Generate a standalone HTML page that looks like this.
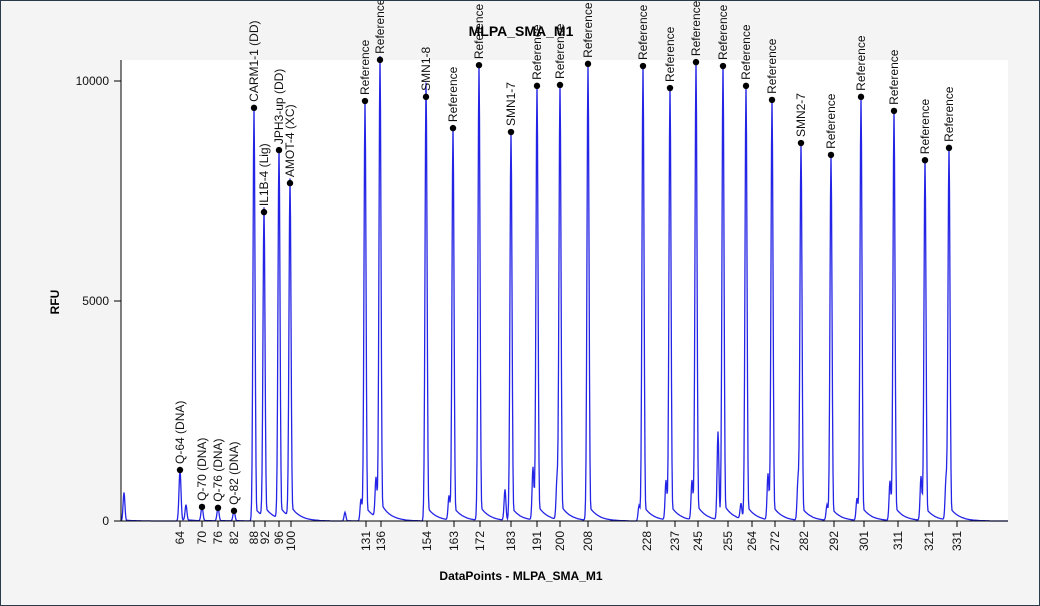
<!DOCTYPE html>
<html><head><meta charset="utf-8"><style>
body{margin:0;background:#f4f4f4;}
#wrap{position:relative;width:1038px;height:604px;border:1px solid #2a3a4a;background:#f4f4f4;overflow:hidden}
text{font-family:"Liberation Sans",sans-serif;}
</style></head><body>
<div id="wrap">
<svg id="chart" width="1038" height="604"></svg>
</div>
<script>
// data (x in scan units, y in RFU)
const peakNames=["Q-64 (DNA)","Q-70 (DNA)","Q-76 (DNA)","Q-82 (DNA)","CARM1-1 (DD)","IL1B-4 (Lig)","JPH3-up (DD)","AMOT-4 (XC)","Reference","Reference","SMN1-8","Reference","Reference","SMN1-7","Reference","Reference","Reference","Reference","Reference","Reference","Reference","Reference","Reference","SMN2-7","Reference","Reference","Reference","Reference","Reference"];
const peakPos=[59,81,97,113,133,143,158,169,244,259,305,332,358,390,416,439,467,522,549,575,602,625,651,680,710,740,773,804,828];
const peakRFU=[1160,320,300,230,9390,7020,8430,7680,9545,10480,9640,8930,10360,8840,9890,9910,10390,10340,9840,10430,10340,9890,9570,8590,8320,9640,9320,8200,8480];
const minorPos=[3,65,224,240,255,306,328,384,412,436,518,545,571,597,620,647,677,706,736,769,800,825];
const minorRFU=[650,350,200,500,900,600,550,700,1200,900,350,900,900,2000,350,1050,900,350,500,900,1000,900];
const tickLabels=["64","70","76","82","88","92","96","100","131","136","154","163","172","183","191","200","208","228","237","245","255","264","272","282","292","301","311","321","331"];
const tickPos=[59,81,97,113,133,144,158,170,245,260,306,333,359,390,416,439,467,526,554,577,607,631,654,683,713,743,777,808,836];
const yTicks=[0,5000,10000];

const X0=120,Y0=520,PW=887;
const sx=v=>X0+v;
const sy=v=>Y0-v*0.044;
const svg=document.getElementById('chart');
const NS='http://www.w3.org/2000/svg';
function mk(t,a,p){const e=document.createElementNS(NS,t);for(const k in a)e.setAttribute(k,a[k]);(p||svg).appendChild(e);return e;}

const plot=mk('rect',{x:X0,y:59,width:PW,height:Y0-59,fill:'#fff'});



// trace
function sig(x){let s=0;
 const f=(p,h,w)=>{const d=x-p;if(d<-8||d>40)return 0;
  const g=Math.exp(-d*d/(2*w*w));const t=d>0?0.035*Math.exp(-d/9):0;return h*Math.max(g,t);};
 for(let i=0;i<peakPos.length;i++)s+=f(peakPos[i],peakRFU[i],1.0);
 for(let i=0;i<minorPos.length;i++)s+=f(minorPos[i],minorRFU[i],0.9);
 return s;}
const xs=[];
for(let x=0;x<=PW;x+=0.5)xs.push(x);
peakPos.forEach(p=>xs.push(p));
xs.sort((a,b)=>a-b);
let d='';
xs.forEach((x,i)=>{d+=(i?'L':'M')+sx(x).toFixed(2)+' '+sy(sig(x)).toFixed(1);});
const trace=mk('path',{d:d,fill:'none',stroke:'#2424e6','stroke-width':1.3});



// axes
const ya=mk('line',{x1:X0,y1:59,x2:X0,y2:Y0,stroke:'#000'});


const xa=mk('line',{x1:X0,y1:Y0,x2:X0+PW,y2:Y0,stroke:'#000'});


yTicks.forEach(v=>{
 const l=mk('line',{x1:X0-7,x2:X0,y1:sy(v),y2:sy(v),stroke:'#000'});
 
 
 const t=mk('text',{x:X0-12,y:sy(v)+4,'text-anchor':'end','font-size':12,fill:'#111'});t.textContent=v;
 
 
});
tickLabels.forEach((lab,i)=>{
 const x=sx(tickPos[i]);
 const l=mk('line',{x1:x,x2:x,y1:Y0,y2:Y0+6,stroke:'#000'});
 
 
 const t=mk('text',{transform:`translate(${x+4},${Y0+10}) rotate(-90)`,'text-anchor':'end','font-size':12,fill:'#111'});t.textContent=lab;
 
 
});
// peak markers & labels
peakNames.forEach((n,i)=>{
 const x=sx(peakPos[i]),y=sy(peakRFU[i]);
 const c=mk('circle',{cx:x,cy:y,r:3.2,fill:'#000'});
 
 
 const t=mk('text',{transform:`translate(${x+4},${y-6}) rotate(-90)`,'font-size':12,fill:'#111'});t.textContent=n;
 
 
});
const title=mk('text',{x:520,y:35,'text-anchor':'middle','font-size':14,'font-weight':'bold'});title.textContent='MLPA_SMA_M1';


const yl=mk('text',{transform:'translate(58,301) rotate(-90)','text-anchor':'middle','font-size':12,'font-weight':'bold'});yl.textContent='RFU';


const xl=mk('text',{x:520,y:579,'text-anchor':'middle','font-size':12,'font-weight':'bold'});xl.textContent='DataPoints - MLPA_SMA_M1';


</script>
</body></html>
